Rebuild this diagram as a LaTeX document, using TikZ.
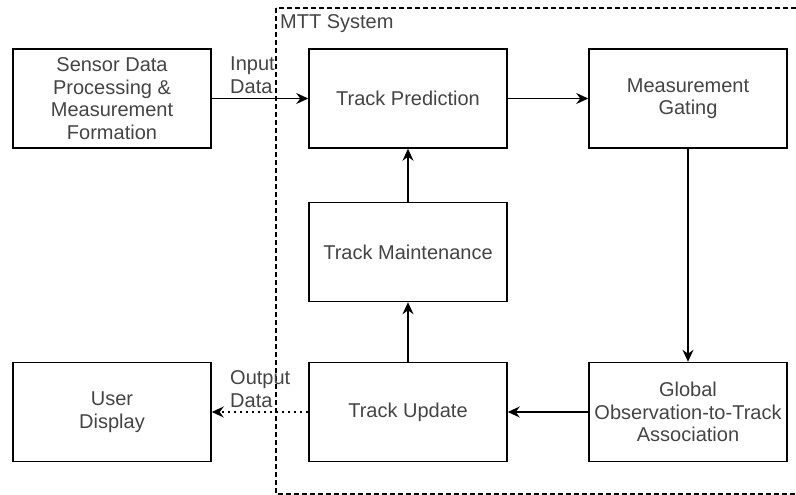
\documentclass[tikz,border=0pt]{standalone}
\usepackage{fontspec}
\setmainfont{Liberation Sans}
\usetikzlibrary{arrows.meta}
\definecolor{txt}{RGB}{68,68,68}
\tikzset{
  block/.style={draw=black, line width=1.5pt, minimum width=198pt, minimum height=99pt,
    align=center, text=txt, font=\fontsize{20}{22.6}\selectfont, inner sep=2pt},
  flow/.style={line width=1.5pt, -{Stealth[length=12pt,width=11pt,inset=4pt]}},
  lbl/.style={text=txt, font=\fontsize{20}{23}\selectfont, align=left, inner sep=0pt, anchor=north west},
}
\begin{document}
\begin{tikzpicture}[x=1pt,y=-1pt]
\useasboundingbox (0,0) rectangle (796,495);
% system boundary
\draw[line width=1.2pt, dash pattern=on 5pt off 3pt] (276,8) rectangle (810,494);
\node[lbl, anchor=west] (sys) at (280,24) {MTT System};
% processing blocks
\node[block] (sensor) at (112,98.5) {Sensor Data\\Processing \&\\Measurement\\Formation};
\node[block] (pred)   at (408,98.5) {Track Prediction};
\node[block] (gate)   at (688,98.5) {Measurement\\Gating};
\node[block] (maint)  at (408,252)  {Track Maintenance};
\node[block] (user)   at (112,412)  {User\\Display};
\node[block] (update) at (408,412)  {Track Update};
\node[block] (global) at (688,412)  {Global\\Observation-to-Track\\Association};
% connectors
\draw[flow] (sensor) -- (pred);
\draw[flow] (pred) -- (gate);
\draw[flow] (gate) -- (global);
\draw[flow] (global) -- (update);
\draw[flow] (update) -- (maint);
\draw[flow] (maint) -- (pred);
\draw[flow, dash pattern=on 2pt off 4pt] (update) -- (user);
% connector labels
\node[lbl] (inlbl) at (230,57) {Input\\Data};
\node[lbl] (outlbl) at (230,370) {Output\\Data};
\end{tikzpicture}
\end{document}
